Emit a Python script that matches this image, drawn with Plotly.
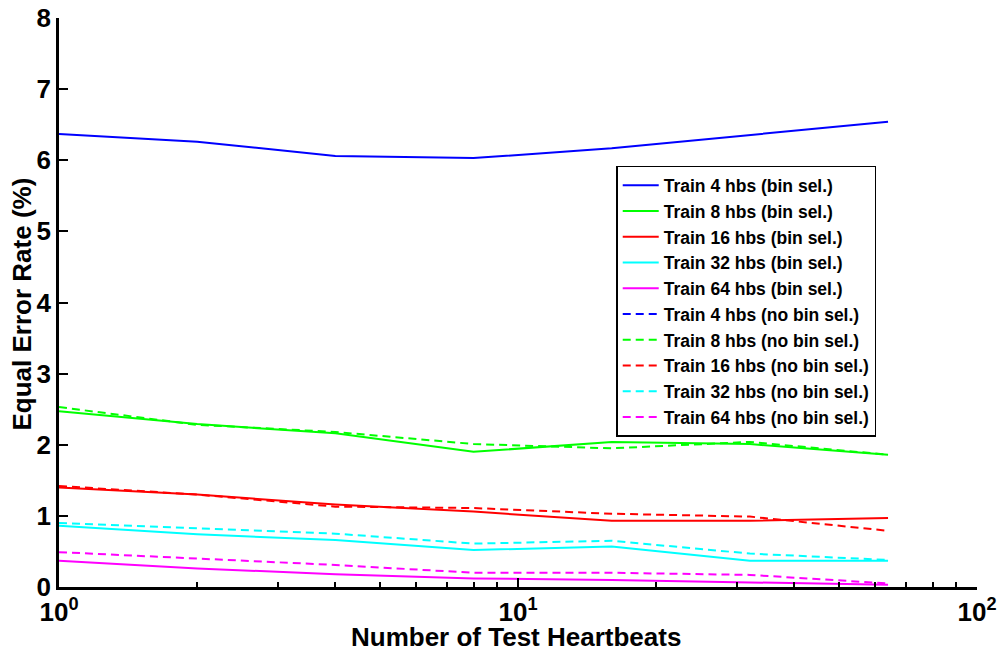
import plotly.graph_objects as go

x_heartbeats = [1, 2, 4, 8, 16, 32, 64]

bin_sel = {
    "Train 4 hbs (bin sel.)": [6.37, 6.26, 6.06, 6.03, 6.17, 6.36, 6.54],
    "Train 8 hbs (bin sel.)": [2.47, 2.29, 2.16, 1.90, 2.04, 2.01, 1.86],
    "Train 16 hbs (bin sel.)": [1.40, 1.30, 1.16, 1.06, 0.93, 0.93, 0.97],
    "Train 32 hbs (bin sel.)": [0.86, 0.74, 0.66, 0.52, 0.57, 0.37, 0.37],
    "Train 64 hbs (bin sel.)": [0.37, 0.26, 0.18, 0.12, 0.10, 0.06, 0.03],
}
no_bin_sel = {
    "Train 4 hbs (no bin sel.)": [None, None, None, None, None, None, None],
    "Train 8 hbs (no bin sel.)": [2.53, 2.28, 2.18, 2.01, 1.95, 2.04, 1.86],
    "Train 16 hbs (no bin sel.)": [1.42, 1.30, 1.13, 1.11, 1.03, 0.99, 0.79],
    "Train 32 hbs (no bin sel.)": [0.90, 0.82, 0.75, 0.61, 0.65, 0.47, 0.38],
    "Train 64 hbs (no bin sel.)": [0.49, 0.40, 0.31, 0.20, 0.20, 0.17, 0.05],
}
colors = ["#0000ff", "#00ff00", "#ff0000", "#00ffff", "#ff00ff"]
x_title = "Number of Test Heartbeats"
y_title = "Equal Error Rate (%)"

fig = go.Figure()
for (name, vals), c in zip(bin_sel.items(), colors):
    fig.add_trace(go.Scatter(x=x_heartbeats, y=vals, name=name, mode="lines",
                             line=dict(color=c, width=2)))
for (name, vals), c in zip(no_bin_sel.items(), colors):
    fig.add_trace(go.Scatter(x=x_heartbeats, y=vals, name=name, mode="lines",
                             line=dict(color=c, width=2, dash="8px,5px")))

font_family = "Liberation Sans, Arial, Helvetica, sans-serif"
title_font = dict(size=26, weight="bold", family=font_family, color="black")

fig.update_layout(
    width=998, height=650,
    margin=dict(l=59, r=21, t=18, b=63),
    plot_bgcolor="white", paper_bgcolor="white",
    font=dict(family=font_family, color="black"),
    showlegend=True,
    legend=dict(
        x=0.607, y=0.740, xanchor="left", yanchor="top",
        bordercolor="black", borderwidth=1.5, bgcolor="white",
        font=dict(size=17.5, family=font_family, weight="bold"),
        tracegroupgap=0, itemwidth=36,
    ),
    xaxis=dict(
        type="log", range=[0, 2], automargin=False,
        tickvals=[1, 10, 100],
        ticktext=["10<sup>0</sup>", "10<sup>1</sup>", "10<sup>2</sup>"],
        ticks="inside", ticklen=9, tickwidth=2, tickcolor="black",
        showline=True, linecolor="black", linewidth=2.5,
        showgrid=False, zeroline=False,
        tickfont=dict(size=26, weight="bold"),
        minor=dict(dtick="D1", ticks="inside", ticklen=5, tickwidth=1.5,
                   tickcolor="black", showgrid=False),
    ),
    yaxis=dict(
        range=[0, 8], tickvals=[0, 1, 2, 3, 4, 5, 6, 7, 8], automargin=False,
        ticks="inside", ticklen=9, tickwidth=2, tickcolor="black",
        showline=True, linecolor="black", linewidth=2.5,
        showgrid=False, zeroline=False,
        tickfont=dict(size=26, weight="bold"),
    ),
    annotations=[
        dict(text=x_title, xref="paper", yref="paper", x=0.498, y=-0.088,
             xanchor="center", yanchor="middle", showarrow=False, font=title_font),
        dict(text=y_title, xref="paper", yref="paper", x=-0.0403, y=0.4965,
             xanchor="center", yanchor="middle", textangle=-90,
             showarrow=False, font=title_font),
    ],
)

fig.write_html("out.html",
               config={"displayModeBar": False},
               post_script="document.body.style.margin='0';document.body.style.padding='0';")
